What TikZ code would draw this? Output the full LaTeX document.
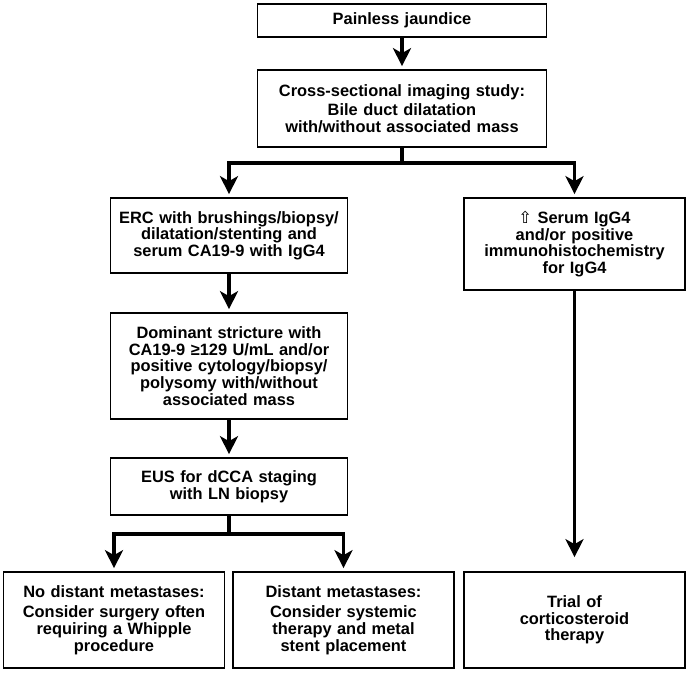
\documentclass[tikz,border=0pt]{standalone}
\usepackage{fontspec}
\setmainfont{Liberation Sans}
\newfontfamily\symfont{DejaVu Sans}
\usetikzlibrary{arrows.meta,calc}
\tikzset{
    box/.style =      {rectangle,
                      fill=white,
                      draw=black,
                      text=black,
                      line width=1.7pt,
                      align=center,
                      inner sep=0pt,
                      font=\bfseries\fontsize{16.4}{16.6}\selectfont},
    widebox/.style =  {box,
                      text width=289pt},
    midbox/.style =   {box,
                      text width=237pt},
    smallbox/.style = {box,
                      text width=221pt},
    link/.style =     {line width=3.4pt,
                      draw=black,
                      line join=miter},
    arrow/.style =    {link,
                      ->,
                      shorten >= 3pt},
    >={Stealth[length=18pt,width=18pt,inset=5pt]}}

\begin{document}
\begin{tikzpicture}[x=1pt,y=-1pt]
                \useasboundingbox (0,0) rectangle (690,672);
                \node[widebox, minimum height=33pt]  (jaundice)  at (402,20.5)  {Painless jaundice};
                \node[widebox, minimum height=77pt]  (imaging)   at (402,108.5) {Cross-sectional imaging study:\\[3pt]
                                                                                  Bile duct dilatation\\
                                                                                  with/without associated mass};
                \node[midbox, minimum height=75pt]   (erc)       at (229,235.5) {ERC with brushings/biopsy/\\
                                                                                  dilatation/stenting and\\
                                                                                  serum CA19-9 with IgG4};
                \node[smallbox, minimum height=92pt] (igg)       at (574.5,244) {{\symfont\mdseries ⇧} Serum IgG4\\
                                                                                  and/or positive\\
                                                                                  immunohistochemistry\\
                                                                                  for IgG4};
                \node[midbox, minimum height=106pt]  (stricture) at (229,366)   {Dominant stricture with\\
                                                                                  CA19-9 ≥129 U/mL and/or\\
                                                                                  positive cytology/biopsy/\\
                                                                                  polysomy with/without\\
                                                                                  associated mass};
                \node[midbox, minimum height=57pt]   (eus)       at (229,486.5) {EUS for dCCA staging\\
                                                                                  with LN biopsy};
                \node[smallbox, minimum height=96pt] (nometa)    at (114,620)   {No distant metastases:\\[4pt]
                                                                                  Consider surgery often\\
                                                                                  requiring a Whipple\\
                                                                                  procedure};
                \node[smallbox, minimum height=96pt] (meta)      at (343.5,620) {Distant metastases:\\[4pt]
                                                                                  Consider systemic\\
                                                                                  therapy and metal\\
                                                                                  stent placement};
                \node[smallbox, minimum height=96pt] (trial)     at (574.5,620) {Trial of\\
                                                                                  corticosteroid\\
                                                                                  therapy};
                % forks
                \coordinate (split)  at ($(imaging.south)+(0,15)$);
                \coordinate (split2) at ($(eus.south)+(0,18)$);
                \draw[arrow]                (jaundice) -- (imaging);
                \draw[link]                 (imaging) -- (split);
                \draw[arrow]                (split) -| (erc.north);
                \draw[arrow]                (split) -| (igg.north);
                \draw[arrow]                (erc) -- (stricture);
                \draw[arrow]                (stricture) -- (eus);
                \draw[link]                 (eus) -- (split2);
                \draw[arrow]                (split2) -| (nometa.north);
                \draw[arrow]                (split2) -| (meta.north);
                \draw[arrow,shorten >=14pt] (igg) -- (trial);
\end{tikzpicture}
\end{document}
